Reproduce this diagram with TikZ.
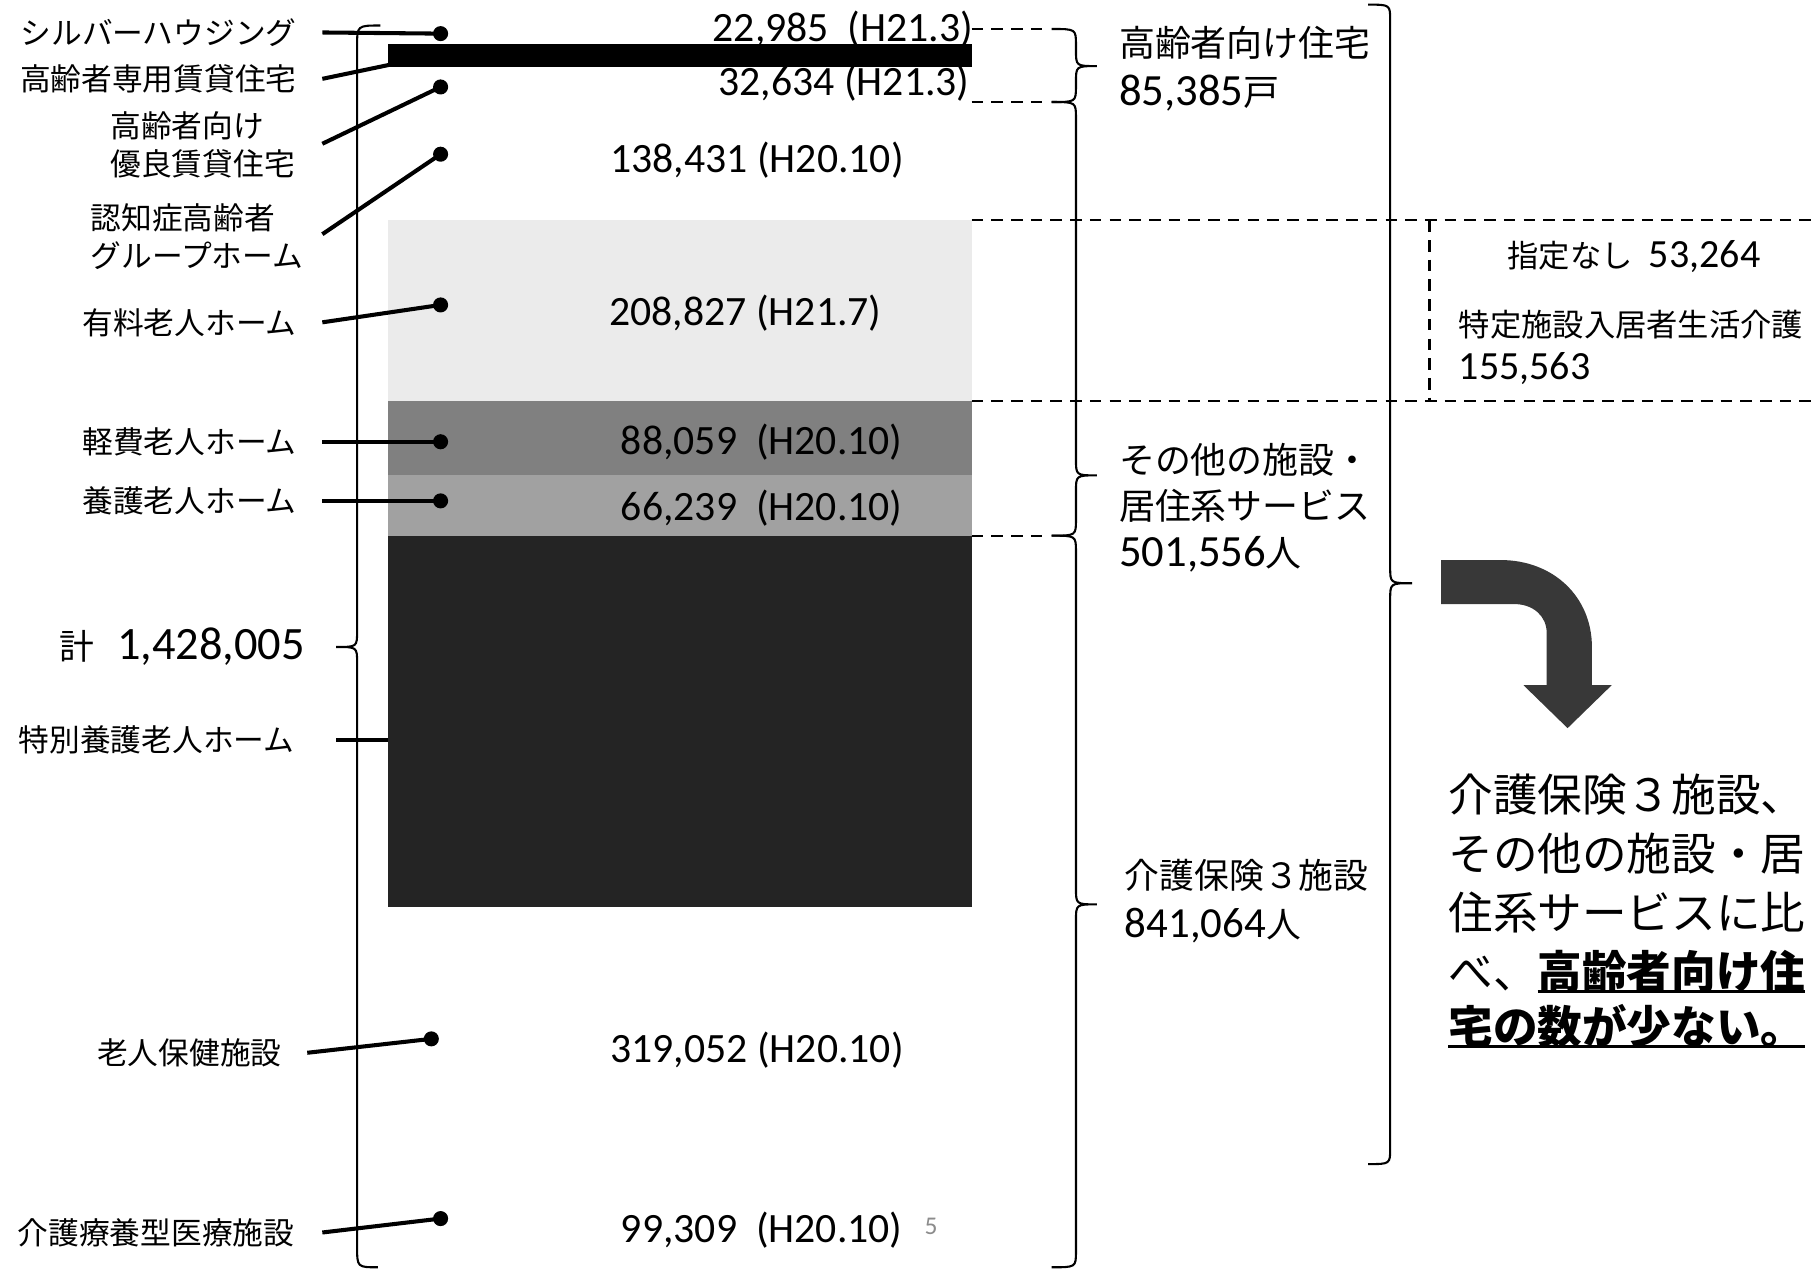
\documentclass[tikz,border=0pt]{standalone}
\usepackage{fontspec}
\setmainfont{Carlito}
\newfontfamily\jp{Noto Sans CJK JP}
\newcommand\myjp[2]{{\jp\fontsize{#1}{#1}\selectfont #2}}
\newcommand\myul[1]{\leavevmode\setbox0\hbox{#1}\rlap{\rule[-4.5pt]{\wd0}{2.6pt}}\box0}
% #1 end x, #2 line x, #3 tip x, #4 y1, #5 ym, #6 y2
\newcommand\mybrace[6]{\draw[bracel] (#1,#4) .. controls (#2,#4) .. (#2,{#4+14}) -- (#2,{#5-14}) .. controls (#2,#5) .. (#3,#5) .. controls (#2,#5) .. (#2,{#5+14}) -- (#2,{#6-14}) .. controls (#2,#6) .. (#1,#6);}
\begin{document}
\begin{tikzpicture}[x=1pt,y=-1pt,
  lab/.style={font=\jp\fontsize{26.5}{33}\selectfont, inner sep=0pt},
  val/.style={font=\fontsize{36}{40}\selectfont, inner sep=0pt},
  rlab/.style={font=\jp\fontsize{31}{36}\selectfont, inner sep=0pt, anchor=west},
  rnum/.style={font=\fontsize{38.5}{42}\selectfont, inner sep=0pt, anchor=west},
  big/.style={font=\jp\fontsize{38.5}{48}\selectfont, inner sep=0pt, anchor=west},
  lead/.style={line width=3.5pt},
  dotn/.style={circle, fill=black, minimum size=13pt, inner sep=0pt},
  bracel/.style={line width=1.8pt},
  dashln/.style={line width=2pt, dash pattern=on 10pt off 7pt}]
\useasboundingbox (0,0) rectangle (1568,1095);

% stacked bar
\fill[black!8] (335,190) rectangle (838,346);
\fill[black!50] (335,346) rectangle (838,410);
\fill[black!37] (335,410) rectangle (838,462);
\fill[black!86] (335,462) rectangle (838,782);
\fill[black] (335,38) rectangle (838,58);

% values
\node[val] (v1) at (727,25) {22,985\ \ (H21.3)};
\node[val] (v2) at (728,72) {32,634 (H21.3)};
\node[val] (v3) at (653,138) {138,431 (H20.10)};
\node[val] (v4) at (643,270) {208,827 (H21.7)};
\node[val] (v5) at (657,381) {88,059\ \ (H20.10)};
\node[val] (v6) at (657,438) {66,239\ \ (H20.10)};
\node[val] (v7) at (653,906) {319,052 (H20.10)};
\node[val] (v8) at (657,1061) {99,309\ \ (H20.10)};
\node[inner sep=0pt, font=\fontsize{22}{24}\selectfont, text=black!45] (five) at (803,1058) {5};

% dashed guides
\draw[dashln] (838,25) -- (905,25);
\draw[dashln] (838,88) -- (905,88);
\draw[dashln] (838,190) -- (1568,190);
\draw[dashln] (838,346) -- (1568,346);
\draw[dashln] (1233,190) -- (1233,346);
\draw[dashln] (838,462) -- (905,462);

% braces
\draw[bracel] (328,22) .. controls (308,22) .. (308,40) -- (308,544) .. controls (308,558) .. (290,558) .. controls (308,558) .. (308,572) -- (308,1075) .. controls (308,1093) .. (326,1093);
\mybrace{907}{928}{946}{25}{57}{88}
\mybrace{907}{928}{946}{88}{410}{462}
\mybrace{907}{928}{946}{462}{780}{1093}
\mybrace{1180}{1199}{1218}{4}{503}{1004}

% total
\node[inner sep=0pt, anchor=east, font=\fontsize{40}{44}\selectfont] (total) at (263,558) {\myjp{30}{計}\hspace{20pt}1,428,005};

% left labels, dots, leads
\node[lab, anchor=east] (silver) at (256,28) {シルバーハウジング};
\node[dotn] (dsilver) at (380,29) {};
\draw[lead] (278,0 |- silver.east) -- (dsilver.center);

\node[lab, anchor=east] (senyo) at (256,68) {高齢者専用賃貸住宅};
\coordinate (csenyo) at (345,54);
\draw[lead] (278,0 |- senyo.east) -- (csenyo);

\node[lab, anchor=west, align=left] (yuryo) at (95,125) {高齢者向け\\優良賃貸住宅};
\node[dotn] (dyuryo) at (380,75) {};
\draw[lead] (278,124) -- (dyuryo.center);

\node[lab, anchor=west, align=left] (gh) at (78,204) {認知症高齢者\\グループホーム};
\node[dotn] (dgh) at (380,133) {};
\draw[lead] (278,202) -- (dgh.center);

\node[lab, anchor=east] (yuro) at (256,278) {有料老人ホーム};
\node[dotn] (dyuro) at (380,263) {};
\draw[lead] (278,0 |- yuro.east) -- (dyuro.center);

\node[lab, anchor=east] (keihi) at (256,381) {軽費老人ホーム};
\node[dotn] (dkeihi) at (380,381) {};
\draw[lead] (278,0 |- keihi.east) -- (dkeihi.center);

\node[lab, anchor=east] (yogo) at (256,432) {養護老人ホーム};
\node[dotn] (dyogo) at (380,432) {};
\draw[lead] (278,0 |- yogo.east) -- (dyogo.center);

\node[lab, anchor=east] (tokuyo) at (254,638) {特別養護老人ホーム};
\coordinate (ctokuyo) at (335,638);
\draw[lead] (290,0 |- tokuyo.east) -- (ctokuyo);

\node[lab, anchor=east] (roken) at (243,908) {老人保健施設};
\node[dotn] (droken) at (372,896) {};
\draw[lead] (265,0 |- roken.east) -- (droken.center);

\node[lab, anchor=east] (ryoyo) at (254,1063) {介護療養型医療施設};
\node[dotn] (dryoyo) at (380,1051) {};
\draw[lead] (278,0 |- ryoyo.east) -- (dryoyo.center);

% right labels
\node[rlab] (r1) at (965,37) {高齢者向け住宅};
\node[rnum] (r2) at (965,80) {85,385\myjp{31}{戸}};
\node[rlab] (r3) at (965,397) {その他の施設・};
\node[rlab] (r4) at (965,436) {居住系サービス};
\node[rnum] (r5) at (965,478) {501,556\myjp{31}{人}};
\node[rlab, font=\jp\fontsize{30}{34}\selectfont] (r6) at (970,755) {介護保険３施設};
\node[rnum, font=\fontsize{37}{40}\selectfont] (r7) at (970,798) {841,064\myjp{30}{人}};

\node[inner sep=0pt, anchor=west] (s1) at (1300,221) {\myjp{27}{指定なし}\hspace{14pt}{\fontsize{34.5}{36}\selectfont 53,264}};
\node[inner sep=0pt, anchor=west, font=\jp\fontsize{27}{30}\selectfont] (s2) at (1258,280) {特定施設入居者生活介護};
\node[inner sep=0pt, anchor=west, font=\fontsize{34.5}{36}\selectfont] (s3) at (1258,318) {155,563};

% big arrow
\fill[black!78] (1243,483) -- (1294,483) .. controls (1340,483) and (1373,515) .. (1373,558) -- (1373,591) -- (1390,591) -- (1352,628) -- (1314,591) -- (1334,591) -- (1334,546) .. controls (1334,531) and (1322,521) .. (1306,521) -- (1243,521) -- cycle;

% conclusion text
\node[big] (b1) at (1249,685) {介護保険３施設、};
\node[big] (b2) at (1249,736) {その他の施設・居};
\node[big] (b3) at (1249,787) {住系サービスに比};
\node[big] (b4) at (1249,838) {べ、\myul{\bfseries 高齢者向け住}};
\node[big] (b5) at (1249,885) {\myul{\bfseries 宅の数が少ない。}};
\end{tikzpicture}
\end{document}
